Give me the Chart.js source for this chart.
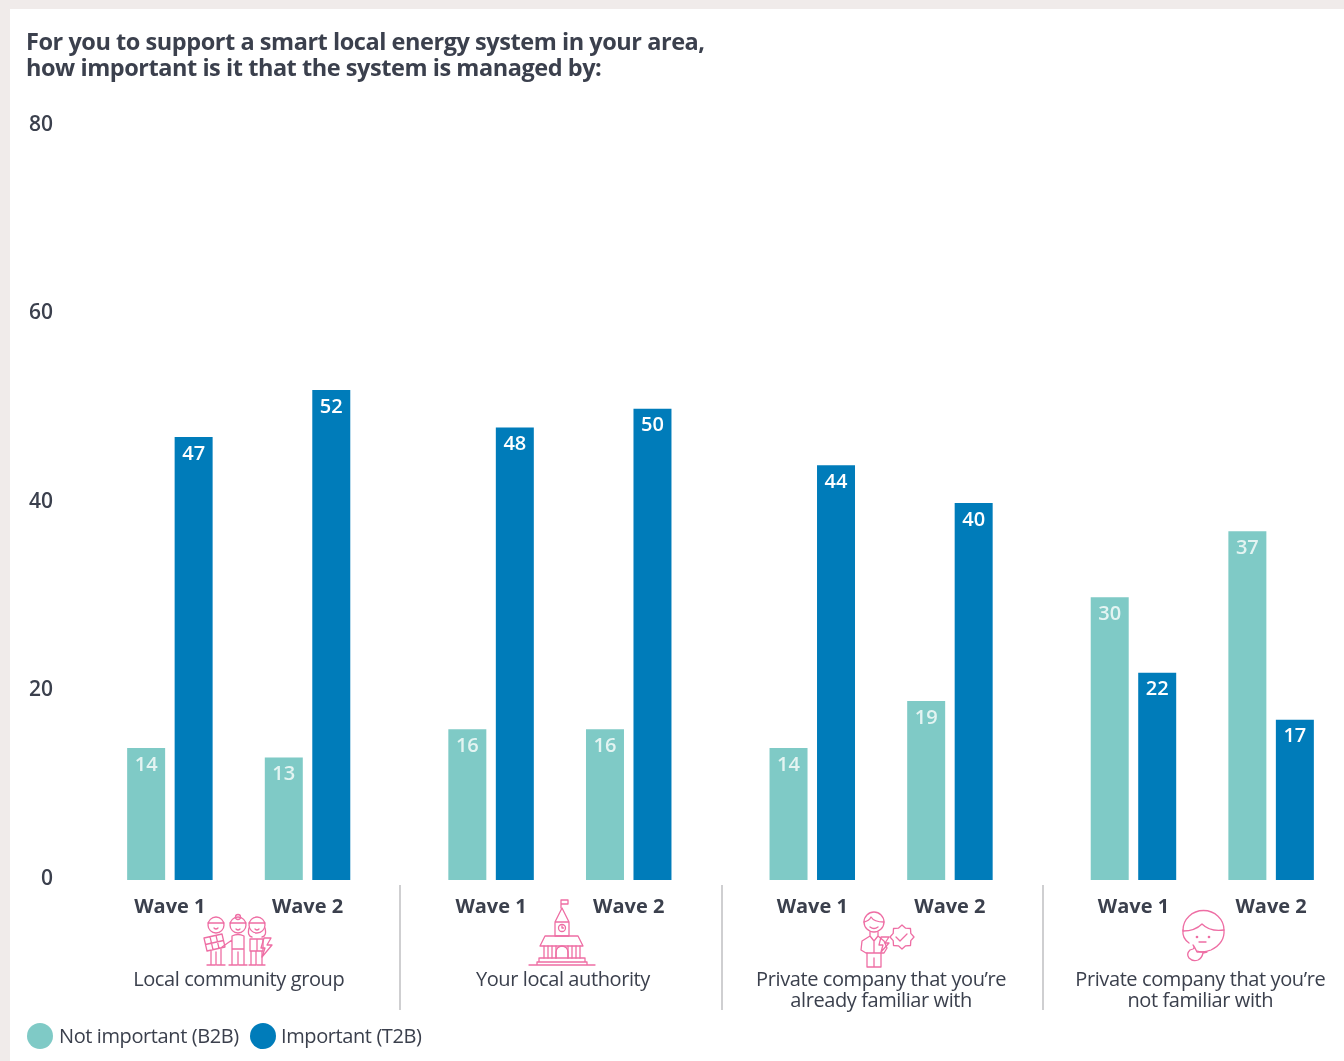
<!DOCTYPE html>
<html>
<head>
<meta charset="utf-8">
<title>Smart local energy system</title>
<script src="https://cdn.jsdelivr.net/npm/chart.js@4"></script>
<style>
  html, body { margin: 0; padding: 0; background: #f0ebea; }
  #panel { position: absolute; left: 10px; top: 9px; width: 1334px; height: 1052px; background: #fff; }
  #wrap { position: absolute; left: 0; top: 0; width: 1344px; height: 1061px; }
  #heading { position: absolute; left: 26px; top: 28px; font: 700 23.5px/26px "Open Sans", sans-serif; letter-spacing: -0.45px; color: #3b404d; white-space: nowrap; }
  #icons { position: absolute; left: 0; top: 0; pointer-events: none; }
  #icons * { fill: none; stroke: #ee6ea4; stroke-width: 1.3; stroke-linejoin: round; stroke-linecap: round; }
  .key { position: absolute; top: 1022px; height: 28px; font: 20px/28px "Open Sans", sans-serif; letter-spacing: -0.4px; color: #3b404d; white-space: nowrap; }
  .key i { position: absolute; left: 0; top: 1px; width: 26px; height: 26px; border-radius: 50%; }
  .key span { position: absolute; top: 0; }
</style>
</head>
<body>
<div id="panel"></div>
<div id="wrap">
  <canvas id="chart" width="1344" height="1061"></canvas>
  <div id="heading">For you to support a smart local energy system in your area,<br>how important is it that the system is managed by:</div>
  <svg id="icons" width="1344" height="1061" viewBox="0 0 1344 1061">
    <!-- community group -->
    <circle cx="216" cy="925" r="8"/><path d="M208 923H224M214 928q2 2 4 0"/>
    <path d="M204 938L222 934L225 947L207 951ZM210 936.700L213 949.700M216 935.400L219 948.400M205.500 944.500L223.500 940.500"/>
    <path d="M211 951V965M221 949V965M216 952V965M207 965H215M217 965H225"/>
    <circle cx="238" cy="925" r="8"/><circle cx="238" cy="917" r="2.500"/><path d="M230 923H246M236 929q2 2 4 0"/>
    <path d="M232 936q6-3 12 0V949H232ZM232 949V965M244 949V965M238 952V965M229 965H237M239 965H247M232 940L222 947"/>
    <circle cx="257" cy="925" r="8"/><path d="M249 923H265M255 929q2 2 4 0M249 928q-2 8 3 9M265 928q2 8-3 9"/>
    <path d="M250 939H263V951H250ZM257 939V951M251 951V965M262 951V965M256 951V965M249 965H256M257 965H265"/>
    <path d="M264 938L271 938L267 945L272 945L262 957L265 948L261 948Z"/>
    <!-- town hall -->
    <path d="M561 908V900H568V904H561"/>
    <path d="M562 908L555 922H569ZM555 922H569V936H555Z"/><circle cx="562" cy="928" r="3.500"/><path d="M562 926v2h1.500"/>
    <path d="M545 936H578L583 946H540Z"/>
    <path d="M544 946V958M548 946V958M552 946V958M556 946V958M568 946V958M572 946V958M576 946V958M580 946V958"/>
    <path d="M556 958V952a6 6 0 0 1 12 0V958"/>
    <path d="M540 958H584M539 958V962M585 958V962M537 962H587V965H537ZM529 965H595"/>
    <!-- company contact -->
    <circle cx="874" cy="922" r="10"/><path d="M864 922q5-1 7-5q3 5 13 5M870 927q4 3 8 0"/>
    <path d="M870 932V936L862 941L861 950L866 953H884L887 948L884 941L878 936V932M870 936L874 941L878 936M874 941V953"/>
    <path d="M881 937L889 937L885 943L889 943L881 952L883 945L879 945Z"/>
    <path d="M867 953V967H881V953M874 958V967M867 967H873M875 967H881"/>
    <polygon points="914,937 910.800,940.600 910.500,945.500 905.600,945.800 902,949 898.400,945.800 893.500,945.500 893.200,940.600 890,937 893.200,933.400 893.500,928.500 898.400,928.200 902,925 905.600,928.200 910.500,928.500 910.800,933.400"/>
    <path d="M896 937l4 4l7-7"/>
    <!-- thinking face -->
    <path d="M1183 930a20.500 19.500 0 1 1 41 0q1 13-13 20q-8 3-14 1"/>
    <path d="M1183 930q-1 8 6 13"/>
    <path d="M1183 931q12 0 19-7q8 8 22 6"/>
    <circle cx="1197" cy="937" r="0.700"/><circle cx="1209" cy="937" r="0.700"/><path d="M1199 942h7"/>
    <path d="M1190 950q-4 4-1 8q4 4 9 2q4-2 5-7l4-1h-6l-4 0q-3-6-4-7q2 3 0 4z"/>
  </svg>
  <div class="key" style="left:27px;width:230px"><i style="background:#7fcac6"></i><span style="left:32px">Not important (B2B)</span></div>
  <div class="key" style="left:250px;width:230px"><i style="background:#007cba"></i><span style="left:31px">Important (T2B)</span></div>
</div>
<script>
const waves = ['Wave 1', 'Wave 2', 'Wave 1', 'Wave 2', 'Wave 1', 'Wave 2', 'Wave 1', 'Wave 2'];
const notImportant = [14, 13, 16, 16, 14, 19, 30, 37];
const important = [47, 52, 48, 50, 44, 40, 22, 17];
const groups = [
  ['Local community group'],
  ['Your local authority'],
  ['Private company that you\u2019re', 'already familiar with'],
  ['Private company that you\u2019re', 'not familiar with']
];
const yTicks = [0, 20, 40, 60, 80];

const textColor = '#3b404d';
const fontFamily = '"Open Sans", sans-serif';

// empty slots either side of each wave, so the bars fall into pairs and groups
const gapAfterWave = [2, 3, 2, 3, 2, 3, 2, 1];
const slotLabels = [''];
const slotLow = [null];
const slotHigh = [null];
waves.forEach((wave, i) => {
  slotLabels.push(wave);
  slotLow.push(notImportant[i]);
  slotHigh.push(important[i]);
  for (let g = 0; g < gapAfterWave[i]; g++) {
    slotLabels.push('');
    slotLow.push(null);
    slotHigh.push(null);
  }
});
const waveSlots = slotLabels.map((l, i) => (l ? i : -1)).filter(i => i >= 0);

// values printed inside the top of each bar
const barValues = {
  id: 'barValues',
  afterDatasetsDraw(chart) {
    const { ctx } = chart;
    ctx.save();
    ctx.textAlign = 'center';
    ctx.textBaseline = 'middle';
    ctx.font = '600 20px ' + fontFamily;
    chart.data.datasets.forEach((ds, d) => {
      ctx.fillStyle = d === 0 ? '#e4f4f2' : '#ffffff';
      chart.getDatasetMeta(d).data.forEach((bar, i) => {
        if (ds.data[i] === null) return;
        ctx.fillText(ds.data[i], bar.x, bar.y + 17);
      });
    });
    ctx.restore();
  }
};

// group captions and the rules between groups, under the wave labels
const captionNudge = [0, 3, 0, -2];
const groupCaptions = {
  id: 'groupCaptions',
  afterDraw(chart) {
    const { ctx } = chart;
    const x = chart.scales.x;
    ctx.save();
    ctx.textAlign = 'center';
    ctx.textBaseline = 'middle';
    ctx.font = '20px ' + fontFamily;
    ctx.letterSpacing = '-0.4px';
    ctx.fillStyle = textColor;
    groups.forEach((lines, g) => {
      const left = x.getPixelForValue(waveSlots[g * 2]);
      const right = x.getPixelForValue(waveSlots[g * 2 + 1]);
      lines.forEach((line, l) => ctx.fillText(line, (left + right) / 2 + captionNudge[g], 980 + l * 21));
      if (g < groups.length - 1) {
        const next = x.getPixelForValue(waveSlots[g * 2 + 2]);
        const rule = Math.round((right + next) / 2) + 1;
        ctx.strokeStyle = '#cfcfd1';
        ctx.lineWidth = 2;
        ctx.beginPath();
        ctx.moveTo(rule, 885);
        ctx.lineTo(rule, 1010);
        ctx.stroke();
      }
    });
    ctx.restore();
  }
};

const ctx = document.getElementById('chart').getContext('2d');
new Chart(ctx, {
  type: 'bar',
  data: {
    labels: slotLabels,
    datasets: [
      { label: 'Not important (B2B)', data: slotLow, backgroundColor: '#7fcac6' },
      { label: 'Important (T2B)', data: slotHigh, backgroundColor: '#007cba' }
    ]
  },
  plugins: [barValues, groupCaptions],
  options: {
    responsive: false,
    animation: false,
    layout: { padding: { left: 26, right: 27, top: 126, bottom: 0 } },
    datasets: { bar: { categoryPercentage: 2.07, barPercentage: 0.8, clip: false } },
    plugins: {
      legend: { display: false },
      tooltip: { enabled: false },
      title: { display: false }
    },
    scales: {
      x: {
        offset: false,
        grid: { display: false },
        border: { display: false },
        ticks: {
          autoSkip: false,
          maxRotation: 0,
          padding: 7,
          color: textColor,
          font: { family: fontFamily, size: 20, weight: '700' }
        },
        afterFit(scale) { scale.height = 181; }
      },
      y: {
        min: 0,
        max: 80,
        grid: { display: false },
        border: { display: false },
        afterBuildTicks(scale) { scale.ticks = yTicks.map(value => ({ value })); },
        ticks: {
          padding: 63,
          labelOffset: -1,
          color: textColor,
          font: { family: fontFamily, size: 21, weight: '600' }
        },
        afterFit(scale) { scale.width = 98; }
      }
    }
  }
});
</script>
</body>
</html>
